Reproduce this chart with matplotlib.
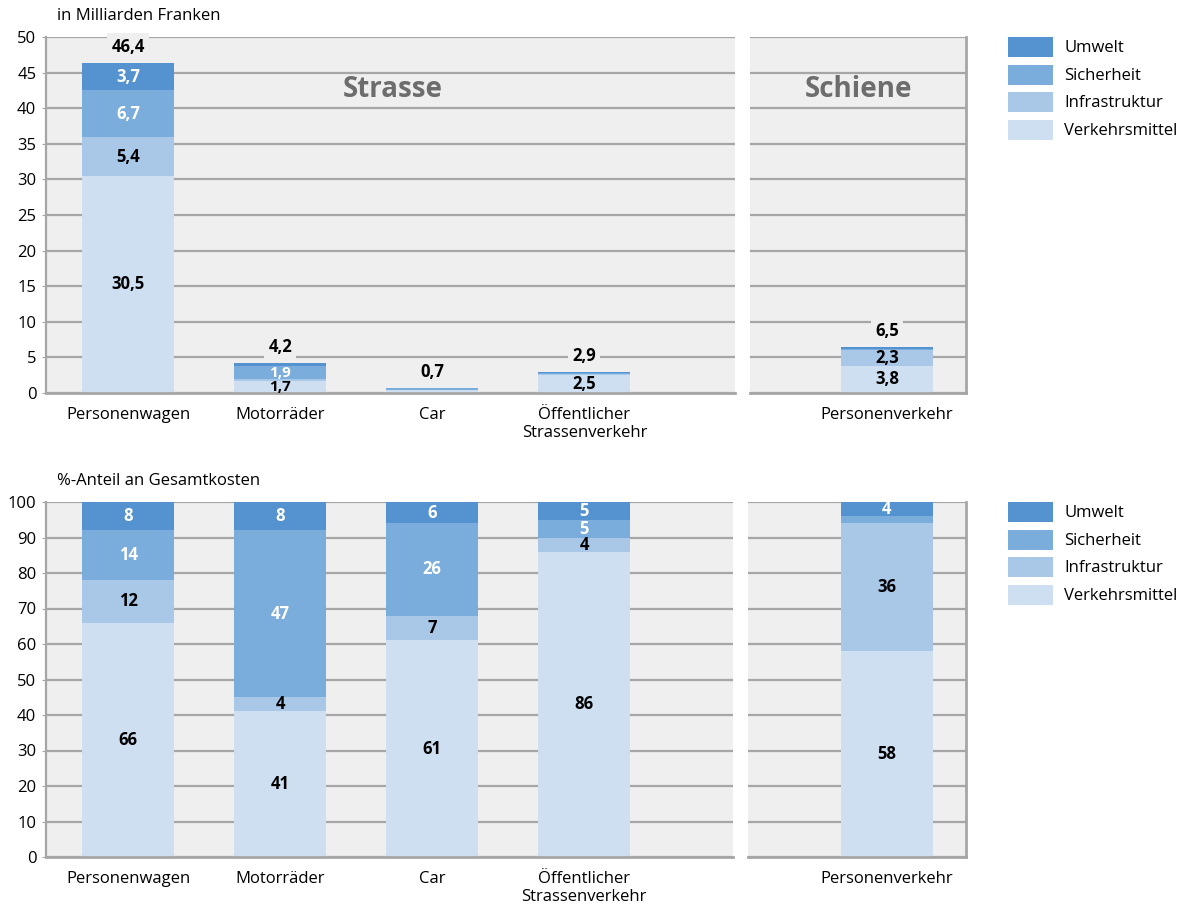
import matplotlib
matplotlib.use("Agg")
import matplotlib.pyplot as plt
from matplotlib.patches import Rectangle

plt.rcParams['font.family'] = ['Open Sans', 'DejaVu Sans']

# Categories
road_categories = ["Personenwagen", "Motorräder", "Car", "Öffentlicher\nStrassenverkehr"]
rail_categories = ["Personenverkehr"]
components = ["Verkehrsmittel", "Infrastruktur", "Sicherheit", "Umwelt"]
colors = ["#cddff1", "#a9c8e8", "#7aaddb", "#5592d0"]
label_colors = ["black", "black", "white", "white"]

# Costs in billions of francs (per component, bottom to top)
road_costs = {
    "Verkehrsmittel": [30.5, 1.7, 0.43, 2.5],
    "Infrastruktur":  [5.4, 0.2, 0.05, 0.12],
    "Sicherheit":     [6.7, 1.9, 0.18, 0.14],
    "Umwelt":         [3.7, 0.4, 0.04, 0.14],
}
rail_costs = {
    "Verkehrsmittel": [3.8],
    "Infrastruktur":  [2.3],
    "Sicherheit":     [0.13],
    "Umwelt":         [0.26],
}
road_totals = [46.4, 4.2, 0.7, 2.9]
rail_totals = [6.5]

# Share of total costs in percent
road_share = {
    "Verkehrsmittel": [66, 41, 61, 86],
    "Infrastruktur":  [12, 4, 7, 4],
    "Sicherheit":     [14, 47, 26, 5],
    "Umwelt":         [8, 8, 6, 5],
}
rail_share = {
    "Verkehrsmittel": [58],
    "Infrastruktur":  [36],
    "Sicherheit":     [2],
    "Umwelt":         [4],
}

BG = "#efefef"
GRID = "#a6a6a6"
FS = 12

W, H = 1186, 911
fig = plt.figure(figsize=(W / 100, H / 100), dpi=100)


def fx(px):
    return px / W


def fy(py):
    return 1 - py / H


def make_axes(x0, x1, y_top, y_bot):
    return fig.add_axes([fx(x0), fy(y_bot), fx(x1) - fx(x0), fy(y_top) - fy(y_bot)])


def fmt_money(v):
    return f"{v:.1f}".replace(".", ",")


def fmt_pct(v):
    return f"{v:d}"


def style_axes(ax, ymax, ystep, show_yticks, right_frame):
    ax.set_facecolor(BG)
    ax.set_ylim(0, ymax)
    ax.set_yticks(range(0, ymax + 1, ystep))
    ax.yaxis.grid(True, color=GRID, lw=1.6)
    ax.set_axisbelow(True)
    for s in ["top", "right", "left", "bottom"]:
        ax.spines[s].set_visible(False)
    ax.spines["bottom"].set_visible(True)
    ax.spines["bottom"].set_color(GRID)
    ax.spines["bottom"].set_linewidth(2)
    if show_yticks:
        ax.spines["left"].set_visible(True)
        ax.spines["left"].set_color(GRID)
        ax.spines["left"].set_linewidth(1.6)
        ax.tick_params(axis="y", length=3, color=GRID, labelsize=FS, pad=4)
    else:
        ax.tick_params(axis="y", length=0, labelleft=False)
    if right_frame:
        ax.spines["right"].set_visible(True)
        ax.spines["right"].set_color(GRID)
        ax.spines["right"].set_linewidth(2)
    ax.tick_params(axis="x", length=0, labelsize=FS, pad=10)


def draw_stack(ax, cats, data, fmt, min_label, totals=None, total_fmt=None):
    xs = list(range(len(cats)))
    bottoms = [0.0] * len(cats)
    for comp, col, lc in zip(components, colors, label_colors):
        vals = data[comp]
        ax.bar(xs, vals, width=0.605, bottom=bottoms, color=col, edgecolor="none", zorder=2)
        for x, v, b in zip(xs, vals, bottoms):
            if v >= min_label:
                # very thin segments get a slightly smaller label so neighbours stay apart
                size = FS if (v / ax.get_ylim()[1]) > 0.039 else FS - 1
                ax.text(x, b + v / 2, fmt(v), ha="center", va="center", color=lc,
                        fontsize=size, fontweight="bold", zorder=4)
        bottoms = [b + v for b, v in zip(bottoms, vals)]
    if totals is not None:
        for x, t in zip(xs, totals):
            ax.annotate(total_fmt(t), (x, t), xytext=(0, 11.5), textcoords="offset points",
                        ha="center", va="center", fontsize=FS, fontweight="bold",
                        color="black", zorder=5,
                        bbox=dict(boxstyle="square,pad=0.25", fc=BG, ec="none"))
    ax.set_xticks(xs)
    ax.set_xticklabels(cats)


def draw_legend(y_first):
    for i, (comp, col) in enumerate(zip(reversed(components), reversed(colors))):
        y = y_first + i * 27.7
        fig.add_artist(Rectangle((fx(1008), fy(y + 10)), fx(1053) - fx(1008), fy(y - 10) - fy(y + 10),
                                 transform=fig.transFigure, fc=col, ec="none"))
        fig.text(fx(1064), fy(y + 1), comp, ha="left", va="center", fontsize=FS)


# ---- Top: absolute costs ----
ax1 = make_axes(46, 735, 37, 393)
style_axes(ax1, 50, 5, True, False)
draw_stack(ax1, road_categories, road_costs, fmt_money, 1.5, road_totals, fmt_money)
ax1.set_xlim(-0.54, 3.99)
ax1.text(1.74, 42.6, "Strasse", ha="center", va="center", fontsize=20,
         fontweight="bold", color="#6d6d6d")

ax2 = make_axes(750, 966, 37, 393)
style_axes(ax2, 50, 5, False, True)
draw_stack(ax2, rail_categories, rail_costs, fmt_money, 1.5, rail_totals, fmt_money)
ax2.set_xlim(-0.90, 0.52)
ax2.text(-0.19, 42.6, "Schiene", ha="center", va="center", fontsize=20,
         fontweight="bold", color="#6d6d6d")

fig.text(fx(57), fy(16), "in Milliarden Franken", ha="left", va="center", fontsize=FS)
draw_legend(47)

# ---- Bottom: shares in percent ----
ax3 = make_axes(46, 733, 502, 857)
style_axes(ax3, 100, 10, True, False)
draw_stack(ax3, road_categories, road_share, fmt_pct, 3)
ax3.set_xlim(-0.54, 3.98)

ax4 = make_axes(748, 966, 502, 857)
style_axes(ax4, 100, 10, False, True)
draw_stack(ax4, rail_categories, rail_share, fmt_pct, 3)
ax4.set_xlim(-0.91, 0.52)

fig.text(fx(57), fy(481), "%-Anteil an Gesamtkosten", ha="left", va="center", fontsize=FS)
draw_legend(512)

fig.savefig("out.png", dpi=100, facecolor="white")
